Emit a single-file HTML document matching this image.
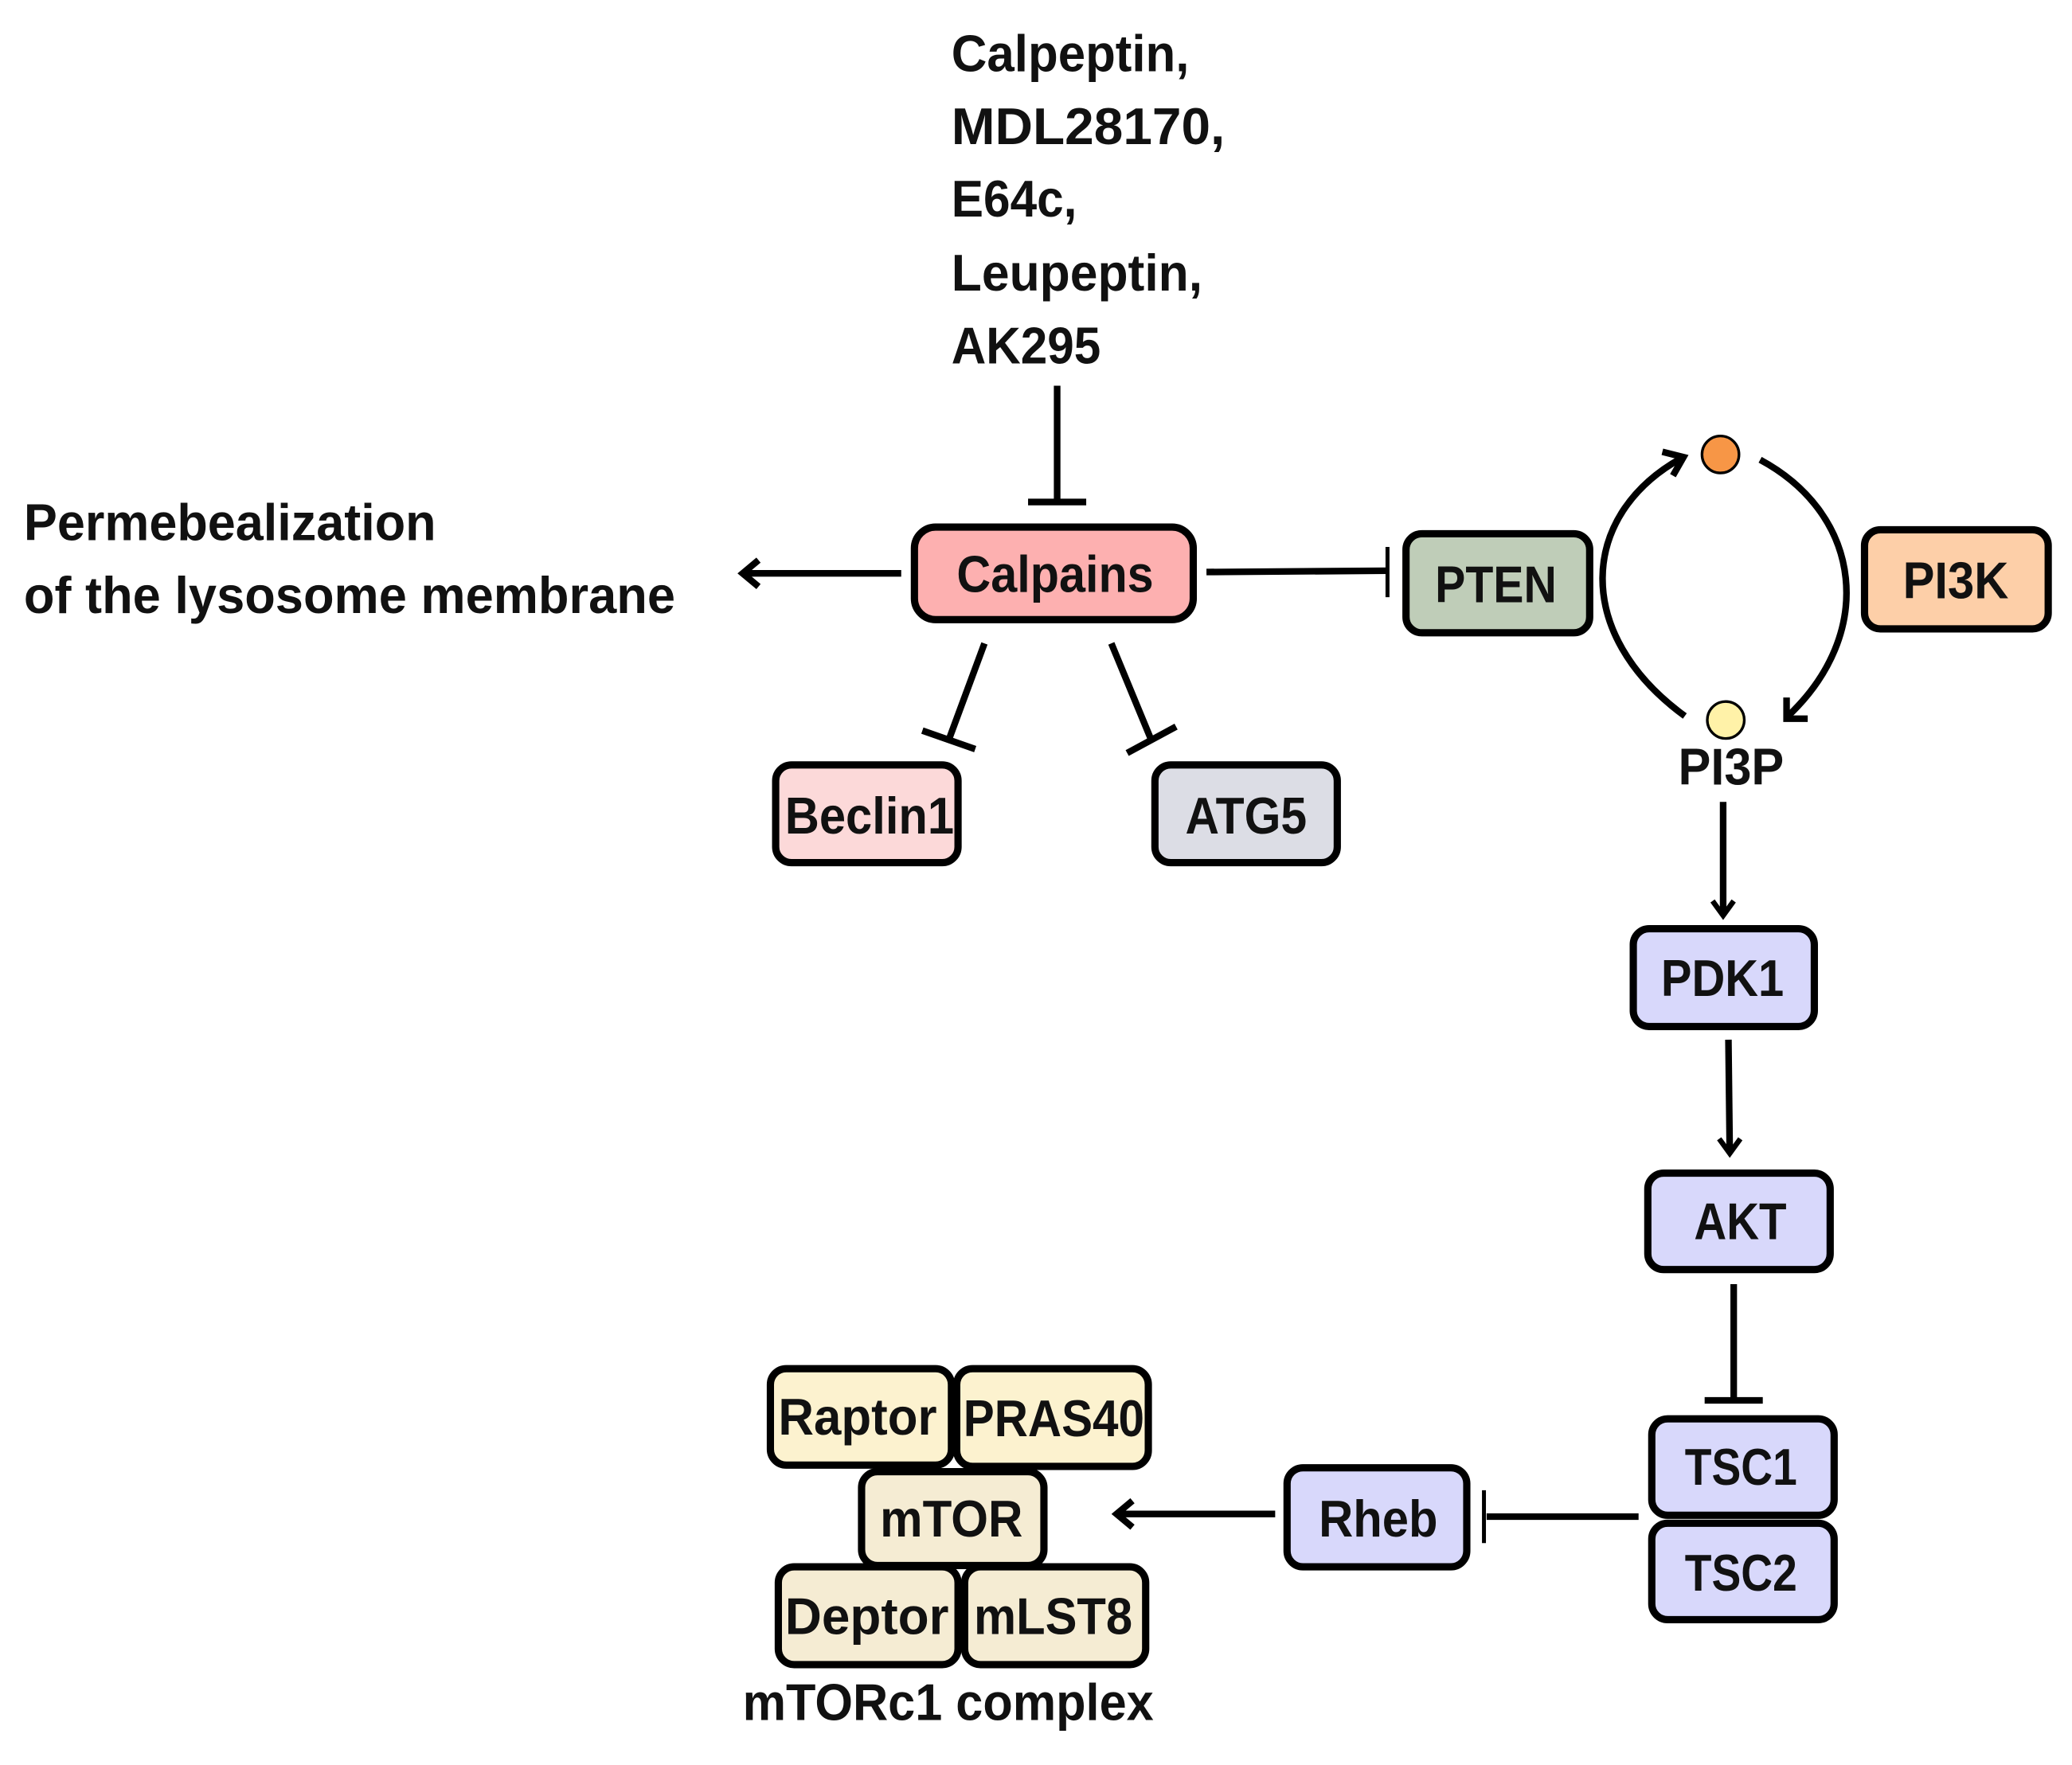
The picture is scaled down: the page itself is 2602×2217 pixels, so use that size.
<!DOCTYPE html>
<html><head><meta charset="utf-8"><style>html,body{margin:0;padding:0;background:#fff}svg{display:block}text{font-family:"Liberation Sans",sans-serif;font-weight:bold;fill:#111}</style></head><body>
<svg width="2602" height="2217" viewBox="0 0 1568 1336" preserveAspectRatio="none" xmlns="http://www.w3.org/2000/svg">
<g font-size="39">
<text x="720" y="54" textLength="180" lengthAdjust="spacingAndGlyphs">Calpeptin,</text>
<text x="720" y="109" textLength="207" lengthAdjust="spacingAndGlyphs">MDL28170,</text>
<text x="720" y="164" textLength="95" lengthAdjust="spacingAndGlyphs">E64c,</text>
<text x="720" y="220" textLength="190" lengthAdjust="spacingAndGlyphs">Leupeptin,</text>
<text x="720" y="275" textLength="113" lengthAdjust="spacingAndGlyphs">AK295</text>
<text x="18" y="409" textLength="312" lengthAdjust="spacingAndGlyphs">Permebealization</text>
<text x="18" y="464" textLength="493" lengthAdjust="spacingAndGlyphs">of the lysosome membrane</text>
</g>
<g stroke="#000" stroke-width="5" fill="none" stroke-linecap="butt">
<line x1="800" y1="292" x2="800" y2="380"/><line x1="778" y1="380" x2="822" y2="380"/>
<line x1="682" y1="434" x2="562" y2="434"/><polyline points="574,424 562,434 574,444"/>
<line x1="913" y1="433" x2="1050" y2="432"/><line x1="1050" y1="414" x2="1050" y2="452" stroke-width="3"/>
<line x1="745" y1="487" x2="718" y2="560"/><line x1="698" y1="553" x2="738" y2="567"/>
<line x1="841" y1="487" x2="872" y2="562"/><line x1="853" y1="570" x2="890" y2="550"/>
<path d="M1275,542 C1190,480 1195,390 1272,347"/><polyline points="1258,342 1274,346 1266,360"/>
<path d="M1332,348 C1410,390 1420,480 1352,543"/><polyline points="1352,528 1352,544 1368,544"/>
<line x1="1304" y1="607" x2="1304" y2="693"/><polyline points="1296,682 1304,693 1312,682" stroke-width="4"/>
<line x1="1308" y1="787" x2="1309" y2="873"/><polyline points="1301,862 1309,873 1317,862" stroke-width="4"/>
<line x1="1312" y1="972" x2="1312" y2="1060"/><line x1="1290" y1="1060" x2="1334" y2="1060"/>
<line x1="1240" y1="1148" x2="1125" y2="1148"/><line x1="1123" y1="1128" x2="1123" y2="1168" stroke-width="3"/>
<line x1="965" y1="1146" x2="845" y2="1146"/><polyline points="857,1136 845,1146 857,1156"/>
</g>
<circle cx="1302" cy="344" r="14" fill="#f79646" stroke="#000" stroke-width="2"/>
<circle cx="1306" cy="545" r="14" fill="#fff2a8" stroke="#000" stroke-width="2"/>
<text x="1270" y="594" font-size="39" textLength="80" lengthAdjust="spacingAndGlyphs">PI3P</text>
<g stroke="#000" stroke-width="5.5">
<rect x="692" y="399" width="211" height="70" rx="16" fill="#fdb0b0"/>
<rect x="1064" y="404" width="139" height="75" rx="12" fill="#bfcdb8"/>
<rect x="1411" y="401" width="139" height="75" rx="12" fill="#fdcfa8"/>
<rect x="587" y="579" width="138" height="74" rx="12" fill="#fcd9d9"/>
<rect x="874" y="579" width="138" height="74" rx="12" fill="#dcdde5"/>
<rect x="1236" y="703" width="137" height="74" rx="12" fill="#d8d8fb"/>
<rect x="1247" y="888" width="138" height="73" rx="12" fill="#d8d8fb"/>
<rect x="1250" y="1074" width="138" height="73" rx="12" fill="#d8d8fb"/>
<rect x="1250" y="1153" width="138" height="73" rx="12" fill="#d8d8fb"/>
<rect x="974" y="1111" width="136" height="75" rx="12" fill="#d8d8fb"/>
<rect x="583" y="1036" width="137" height="73" rx="12" fill="#fcf2cf"/>
<rect x="724" y="1036" width="145" height="74" rx="12" fill="#fcf2cf"/>
<rect x="652" y="1114" width="138" height="71" rx="12" fill="#f5ecd3"/>
<rect x="589" y="1186" width="136" height="74" rx="12" fill="#f5ecd3"/>
<rect x="730" y="1186" width="137" height="74" rx="12" fill="#f5ecd3"/>
</g>
<g font-size="39">
<text x="724" y="448" textLength="149" lengthAdjust="spacingAndGlyphs">Calpains</text>
<text x="1086" y="456" textLength="92" lengthAdjust="spacingAndGlyphs">PTEN</text>
<text x="1440" y="453" textLength="80" lengthAdjust="spacingAndGlyphs">PI3K</text>
<text x="594" y="631" textLength="128" lengthAdjust="spacingAndGlyphs">Beclin1</text>
<text x="897" y="631" textLength="92" lengthAdjust="spacingAndGlyphs">ATG5</text>
<text x="1257" y="754" textLength="93" lengthAdjust="spacingAndGlyphs">PDK1</text>
<text x="1282" y="938" textLength="70" lengthAdjust="spacingAndGlyphs">AKT</text>
<text x="1275" y="1124" textLength="85" lengthAdjust="spacingAndGlyphs">TSC1</text>
<text x="1275" y="1204" textLength="85" lengthAdjust="spacingAndGlyphs">TSC2</text>
<text x="998" y="1163" textLength="90" lengthAdjust="spacingAndGlyphs">Rheb</text>
<text x="589" y="1086" textLength="120" lengthAdjust="spacingAndGlyphs">Raptor</text>
<text x="729" y="1087" textLength="137" lengthAdjust="spacingAndGlyphs">PRAS40</text>
<text x="666" y="1163" textLength="108" lengthAdjust="spacingAndGlyphs">mTOR</text>
<text x="594" y="1237" textLength="124" lengthAdjust="spacingAndGlyphs">Deptor</text>
<text x="737" y="1237" textLength="120" lengthAdjust="spacingAndGlyphs">mLST8</text>
<text x="562" y="1302" textLength="311" lengthAdjust="spacingAndGlyphs">mTORc1 complex</text>
</g>
</svg>
</body></html>
